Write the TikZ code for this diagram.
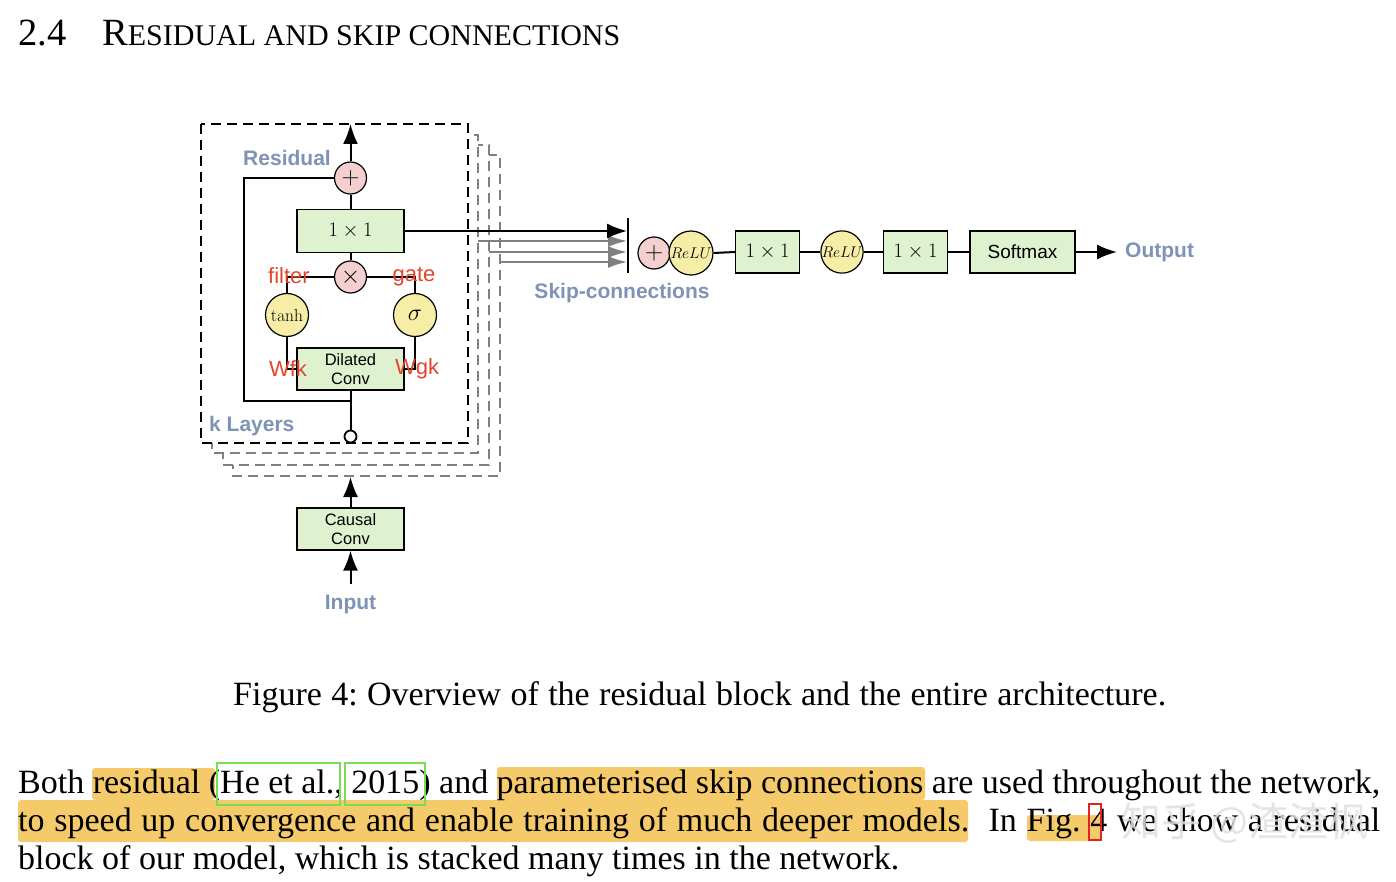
\documentclass[tikz,border=0pt]{standalone}
\usepackage{fix-cm}
\usepackage[no-math]{fontspec}
\setmainfont{Liberation Serif}
\newfontfamily\diagsans{Liberation Sans}
\newfontfamily\cjkfont{Noto Sans CJK SC}
\usetikzlibrary{arrows.meta}
\definecolor{boxgreen}{HTML}{DFF2CF}
\definecolor{oppink}{HTML}{F3CFCF}
\definecolor{actyellow}{HTML}{F6EEA6}
\definecolor{labelblue}{HTML}{7E93B6}
\definecolor{labelred}{HTML}{E5452C}
\definecolor{stackgray}{HTML}{808080}
\definecolor{hilite}{HTML}{F5CA6B}
\definecolor{refgreen}{HTML}{78DC55}
\definecolor{refred}{HTML}{E02424}
\begin{document}
\begin{tikzpicture}[x=1pt,y=-1pt,
  opbox/.style={draw=black, line width=1.2pt, fill=boxgreen, minimum width=107pt, minimum height=43pt, inner sep=0pt, align=center},
  smallbox/.style={opbox, minimum width=64pt, minimum height=42pt},
  opc/.style={circle, draw=black, line width=1.2pt, fill=oppink, minimum size=32pt, inner sep=0pt, font=\fontsize{25}{25}\selectfont},
  actc/.style={circle, draw=black, line width=1.2pt, fill=actyellow, minimum size=43pt, inner sep=0pt},
  conn/.style={line width=2pt},
  arr/.style={conn, -{Latex[length=20pt,width=15pt]}},
  grayarr/.style={line width=2pt, draw=stackgray, -{Latex[length=19pt,width=12pt]}},
  lbl/.style={font={\diagsans\bfseries\fontsize{21}{21}\selectfont}, text=labelblue, inner sep=0pt},
  redlbl/.style={font={\diagsans\fontsize{22}{22}\selectfont}, text=labelred, inner sep=0pt},
  stackback/.style={draw=stackgray, fill=white, line width=2pt, dash pattern=on 10pt off 6pt},
  stackfront/.style={draw=black, fill=white, line width=2pt, dash pattern=on 10pt off 6pt},
  body/.style={font={\fontsize{34}{38}\selectfont}, inner sep=0pt, anchor=base west},
  hl/.style={fill=hilite, rounded corners=3pt},
  refbox/.style={draw=refgreen, line width=2.5pt}
]
\useasboundingbox[fill=white] (0,0) rectangle (1396,882);

% heading
\node[body, font={\fontsize{38.5}{40}\selectfont}] (secnum) at (18,46) {2.4};
\node[body, font={\fontsize{38.5}{40}\selectfont}] (sectitle) at (102,46) {R{\fontsize{30}{32}\selectfont ESIDUAL AND SKIP CONNECTIONS}};

% stacked layer boxes
\draw[stackback] (233,155) rectangle (500,476);
\draw[stackback] (223,145) rectangle (489,465);
\draw[stackback] (212,135) rectangle (478,453);
\draw[stackfront] (201,124) rectangle (468,443);

% residual block nodes
\node[opc] (res) at (350.5,178) {$+$};
\node[opbox] (conv1) at (350.5,231) {\fontsize{20.5}{20.5}\selectfont$1\times1$};
\node[opc] (mult) at (350.5,277) {$\times$};
\node[actc] (tanhc) at (287,315) {\fontsize{17.5}{17.5}\selectfont$\tanh$};
\node[actc] (sigc) at (415,315) {\fontsize{24}{24}\selectfont$\sigma$};
\node[opbox, minimum height=42pt, font={\diagsans\fontsize{16.5}{19}\selectfont}] (dil) at (350.5,369) {Dilated\\Conv};
\node[circle, draw=black, line width=1.8pt, fill=white, minimum size=12pt, inner sep=0pt] (inc) at (350.5,436.5) {};
\coordinate (topc) at (350.5,124);
\coordinate (split) at (350.5,401);
\coordinate (rescorner) at (244,401);

\draw[arr] (res) -- (topc);
\draw[conn] (conv1) -- (res);
\draw[conn] (mult) -- (conv1);
\draw[conn] (mult.west) -| (tanhc.north);
\draw[conn] (mult.east) -| (sigc.north);
\draw[conn] (tanhc.south) |- (dil.west);
\draw[conn] (sigc.south) |- (dil.east);
\draw[conn] (inc) -- (dil.south);
\draw[conn] (split) -- (rescorner) |- (res.west);

\node[lbl] (reslbl) at (287,158) {Residual};
\node[lbl, anchor=west] (klbl) at (209,426) {k Layers};
\node[redlbl] (filterlbl) at (289,276) {filter};
\node[redlbl] (gatelbl) at (414,277) {gate};
\node[redlbl] (wfklbl) at (288,369) {Wfk};
\node[redlbl] (wgklbl) at (417,369) {Wgk};

% input
\node[opbox, minimum height=42pt, font={\diagsans\fontsize{16.5}{19}\selectfont}] (causal) at (350.5,529) {Causal\\Conv};
\coordinate (stacktop) at (350.5,477);
\node[lbl] (inp) at (350.5,604) {Input};
\coordinate (intail) at (350.5,584);
\draw[arr] (causal) -- (stacktop);
\draw[arr] (intail) -- (causal.south);

% skip connections
\coordinate (bartop) at (628,218);
\coordinate (barbot) at (628,273);
\coordinate (s0) at (627,231);
\coordinate (s1) at (627,241);
\coordinate (s2) at (627,252);
\coordinate (s3) at (627,262);
\coordinate (g1) at (478,241);
\coordinate (g2) at (489,252);
\coordinate (g3) at (500,262);
\draw[grayarr] (g1) -- (s1);
\draw[grayarr] (g2) -- (s2);
\draw[grayarr] (g3) -- (s3);
\draw[arr] (conv1.east) -- (s0);
\draw[line width=2pt] (bartop) -- (barbot);
\node[lbl] (skiplbl) at (622,293) {Skip-connections};

% output pipeline
\node[opc] (plus2) at (654,253) {$+$};
\node[actc, minimum size=44pt] (relu1) at (691,253) {\fontsize{15.5}{15.5}\selectfont$ReLU$};
\node[smallbox] (ca) at (767.5,252) {\fontsize{20.5}{20.5}\selectfont$1\times1$};
\node[actc, minimum size=42pt] (relu2) at (842,252) {\fontsize{15.5}{15.5}\selectfont$ReLU$};
\node[smallbox] (cb) at (915.5,252) {\fontsize{20.5}{20.5}\selectfont$1\times1$};
\node[opbox, minimum width=105pt, minimum height=42pt, font={\diagsans\fontsize{19}{19}\selectfont}] (soft) at (1022.5,252) {Softmax};
\node[lbl, anchor=west] (outlbl) at (1125,252) {Output};
\coordinate (outtip) at (1117,252);
\draw[conn] (relu1.east) -- (ca.west);
\draw[conn] (ca.east) -- (relu2.west);
\draw[conn] (relu2.east) -- (cb.west);
\draw[conn] (cb.east) -- (soft.west);
\draw[arr] (soft.east) -- (outtip);

% caption
\node[body] (caption) at (233,705) {\makebox[933pt][s]{Figure 4:\ Overview of the residual block and the entire architecture.}};

% highlights
\fill[hl] (92,768) rectangle (215,800);
\fill[hl] (497,767) rectangle (925,800);
\fill[hl] (18,800) rectangle (968,842);
\fill[hl] (1027,815) rectangle (1100,841);

% paragraph
\node[body] (line1) at (18,793) {\makebox[1362pt][s]{Both residual (He et al., 2015) and parameterised skip connections are used throughout the network,}};
\node[body] (line2) at (18,831) {\makebox[1362pt][s]{to speed up convergence and enable training of much deeper models.\ \ In Fig.~4 we show a residual}};
\node[body] (line3) at (18,869) {block of our model, which is stacked many times in the network.};

\draw[refbox] (217,763) rectangle (340,805);
\draw[refbox] (345,763) rectangle (425,805);
\draw[draw=refred, line width=2.5pt] (1089,804) rectangle (1101,840);

% watermark
\node[font={\cjkfont\fontsize{40}{40}\selectfont}, text=white!88!black, opacity=0.85, inner sep=0pt] (wm) at (1245,823) {知乎 @渣渣枫};
\end{tikzpicture}
\end{document}
